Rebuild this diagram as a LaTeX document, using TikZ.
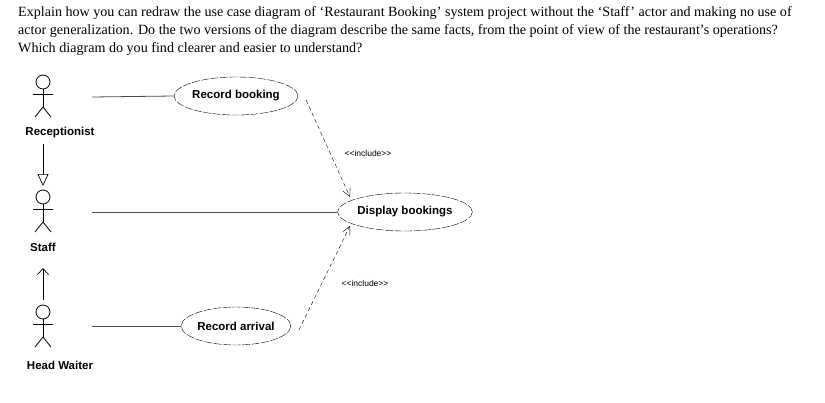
\documentclass[tikz,border=0pt]{standalone}
\usepackage{fontspec}
\setmainfont{Liberation Serif}
\setsansfont{Liberation Sans}
\usetikzlibrary{arrows.meta,shapes.geometric}
\tikzset{
  uc/.style={ellipse,draw,dash pattern=on 8pt off 1.5pt,minimum width=#1,minimum height=38pt,inner sep=0pt,font=\sffamily\bfseries\fontsize{11.5}{13}\selectfont},
  lbl/.style={font=\sffamily\bfseries\fontsize{11.5}{13}\selectfont},
  inc/.style={font=\sffamily\fontsize{8.5}{10}\selectfont},
  txt/.style={anchor=west,inner sep=0pt,font=\fontsize{14.1}{16}\selectfont},
  dep/.style={dashed,dash pattern=on 4pt off 3pt,-{Straight Barb[length=8pt,width=8pt]}},
  assoc/.style={gray!60!black,line width=0.8pt}
}
\newcommand{\actor}[2]{%
  \begin{scope}[shift={(#1,#2)},line width=0.8pt]
    \draw (0,-7) circle (7);
    \draw (0,-14) -- (0,-32);
    \draw (-10,-19) -- (10,-19);
    \draw (0,-32) -- (-8,-42);
    \draw (0,-32) -- (8,-42);
  \end{scope}}
\begin{document}
\begin{tikzpicture}[x=1pt,y=1pt]
\useasboundingbox[fill=white] (0,0) rectangle (825,-402);
\node[txt] (t1) at (18,-13) {Explain how you can redraw the use case diagram of ‘Restaurant Booking’ system project without the ‘Staff’ actor and making no use of};
\node[txt] (t2) at (18,-31) {actor generalization. Do the two versions of the diagram describe the same facts, from the point of view of the restaurant’s operations?};
\node[txt] (t3) at (18,-49) {Which diagram do you find clearer and easier to understand?};
\actor{43}{-75}
\actor{43}{-190}
\actor{43}{-305}
\node[lbl] (l1) at (60,-133) {Receptionist};
\node[lbl] (l2) at (43,-247) {Staff};
\node[lbl] (l3) at (60,-365) {Head Waiter};
\node[uc=104pt] (rb) at (236,-96) {Record booking};
\node[uc=104pt] (db) at (405,-212) {Display bookings};
\node[uc=104pt] (ra) at (236,-326) {Record arrival};
\draw[assoc] (92,-97) -- (rb.west);
\draw[assoc] (92,-212) -- (db.west);
\draw[assoc] (92,-326) -- (ra.west);
\coordinate (g1) at (43,-144);
\coordinate (g2) at (43,-186);
\draw[line width=0.7pt,-{Triangle[open,length=12pt,width=11pt]}] (g1) -- (g2);
\coordinate (h1) at (43,-300);
\coordinate (h2) at (43,-268);
\draw[line width=0.7pt,-{Straight Barb[length=6pt,width=11pt]}] (h1) -- (h2);
\draw[dep] (rb.east) ++(8,-4) -- (350,-197);
\draw[dep] (ra.east) ++(8,-4) -- (350,-226);
\node[inc] (i1) at (368,-153) {{<}{<}include{>}{>}};
\node[inc] (i2) at (365,-283) {{<}{<}include{>}{>}};
\end{tikzpicture}
\end{document}
